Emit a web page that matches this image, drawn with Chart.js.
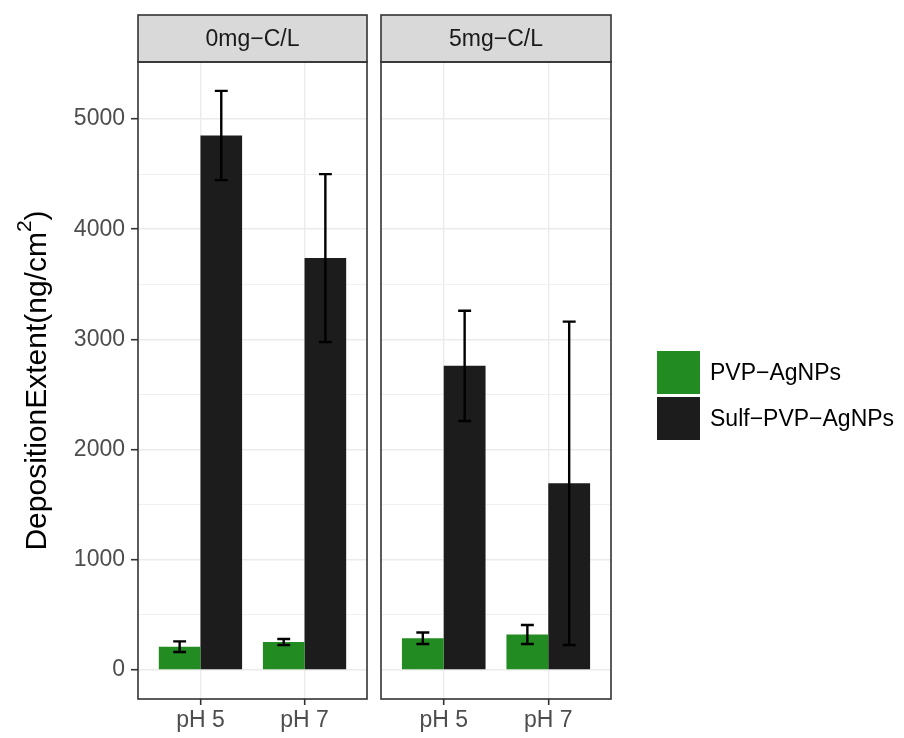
<!DOCTYPE html>
<html>
<head>
<meta charset="utf-8">
<script src="https://cdn.jsdelivr.net/npm/chart.js@4.4.0/dist/chart.umd.min.js"></script>
<style>
  html, body { margin: 0; padding: 0; background: #fff; }
  #wrap { position: relative; width: 904px; height: 738px; overflow: hidden; }
  canvas { position: absolute; top: 0; }
  #left { left: 0; }
  #right { left: 376px; }
</style>
</head>
<body>
<div id="wrap">
  <canvas id="left" width="372" height="738"></canvas>
  <canvas id="right" width="528" height="738"></canvas>
</div>
<script>
const phLevels = ['pH 5', 'pH 7'];
const panelLabels = ['0mg−C/L', '5mg−C/L'];
const seriesNames = ['PVP−AgNPs', 'Sulf−PVP−AgNPs'];
const seriesColors = ['#228B22', '#1C1C1C'];

// mean deposition and error (half range) per pH, one pair of arrays per panel
const pvpMean0 = [212, 254];
const pvpErr0 = [48, 27];
const sulfMean0 = [4850, 3738];
const sulfErr0 = [405, 762];

const pvpMean5 = [288, 322];
const pvpErr5 = [52, 86];
const sulfMean5 = [2760, 1694];
const sulfErr5 = [500, 1467];

const yMajor = [0, 1000, 2000, 3000, 4000, 5000];
const yMinor = [500, 1500, 2500, 3500, 4500];
const yMin = -263;
const yMax = 5517;

const FONT = "'Liberation Sans', Arial, Helvetica, sans-serif";
const TEXT_SIZE = 23;

const toPoints = (vals) => vals.map((v, i) => ({ x: i + 1, y: v }));

function makeDatasets(pvpMean, pvpErr, sulfMean, sulfErr) {
    return [
        { label: seriesNames[0], data: toPoints(pvpMean), err: pvpErr, backgroundColor: seriesColors[0] },
        { label: seriesNames[1], data: toPoints(sulfMean), err: sulfErr, backgroundColor: seriesColors[1] }
    ];
}

// error bars drawn over the bars
const errorBars = {
    id: 'errorBars',
    afterDatasetsDraw(chart) {
        const ctx = chart.ctx;
        const y = chart.scales.y;
        ctx.save();
        ctx.strokeStyle = '#000';
        ctx.lineWidth = 2.4;
        chart.data.datasets.forEach((ds, i) => {
            chart.getDatasetMeta(i).data.forEach((bar, j) => {
                const v = ds.data[j].y;
                const top = y.getPixelForValue(v + ds.err[j]);
                const bot = y.getPixelForValue(v - ds.err[j]);
                const half = bar.width * 0.155;
                ctx.beginPath();
                ctx.moveTo(bar.x, top);
                ctx.lineTo(bar.x, bot);
                ctx.moveTo(bar.x - half, top);
                ctx.lineTo(bar.x + half, top);
                ctx.moveTo(bar.x - half, bot);
                ctx.lineTo(bar.x + half, bot);
                ctx.stroke();
            });
        });
        ctx.restore();
    }
};

// panel border, facet strip, and (left panel only) the y title with a real superscript
const facet = {
    id: 'facet',
    afterDraw(chart, args, opts) {
        const { left, right, top, bottom } = chart.chartArea;
        const ctx = chart.ctx;
        ctx.save();
        ctx.fillStyle = '#D9D9D9';
        ctx.fillRect(left, 15, right - left, top - 15);
        ctx.strokeStyle = '#333333';
        ctx.lineWidth = 1.6;
        ctx.strokeRect(left, 15, right - left, top - 15);
        ctx.strokeRect(left, top, right - left, bottom - top);
        ctx.fillStyle = '#1A1A1A';
        ctx.font = TEXT_SIZE + 'px ' + FONT;
        ctx.textAlign = 'center';
        ctx.textBaseline = 'middle';
        ctx.fillText(opts.label, (left + right) / 2, (15 + top) / 2 + 1);

        if (opts.yTitle) {
            const big = 30 + 'px ' + FONT;
            const small = 21 + 'px ' + FONT;
            const [a, sup, b] = opts.yTitle;
            ctx.font = big;
            const wa = ctx.measureText(a).width;
            const wb = ctx.measureText(b).width;
            ctx.font = small;
            const ws = ctx.measureText(sup).width;
            const total = wa + ws + wb;
            ctx.translate(opts.yTitleX, (top + bottom) / 2);
            ctx.rotate(-Math.PI / 2);
            ctx.fillStyle = '#000';
            ctx.textAlign = 'left';
            ctx.textBaseline = 'alphabetic';
            let x = -total / 2;
            ctx.font = big;
            ctx.fillText(a, x, 10);
            x += wa;
            ctx.font = small;
            ctx.fillText(sup, x, -5);
            x += ws;
            ctx.font = big;
            ctx.fillText(b, x, 10);
        }
        ctx.restore();
    }
};

// legend to the right of the second panel
const sideLegend = {
    id: 'sideLegend',
    afterDraw(chart, args, opts) {
        if (!opts || opts.x === undefined) return;
        const ctx = chart.ctx;
        ctx.save();
        ctx.font = TEXT_SIZE + 'px ' + FONT;
        ctx.textBaseline = 'middle';
        chart.data.datasets.forEach((ds, i) => {
            const ky = opts.y + i * 46;
            ctx.fillStyle = ds.backgroundColor;
            ctx.fillRect(opts.x, ky, 43, 43);
            ctx.fillStyle = '#000';
            ctx.fillText(ds.label, opts.x + 53, ky + 23);
        });
        ctx.restore();
    }
};

function makeScales(showY) {
    return {
        x: {
            type: 'linear',
            min: 0.4,
            max: 2.6,
            offset: false,
            afterBuildTicks: (scale) => { scale.ticks = phLevels.map((p, i) => ({ value: i + 1 })); },
            afterFit: (scale) => { scale.height = 39; },
            ticks: {
                autoSkip: false,
                maxRotation: 0,
                padding: 2,
                color: '#4D4D4D',
                font: { family: FONT, size: TEXT_SIZE },
                callback: (v) => phLevels[v - 1]
            },
            grid: { offset: false, color: '#EBEBEB', lineWidth: 1.4, tickLength: 6, tickColor: '#333333', tickWidth: 1.6 },
            border: { display: false }
        },
        y: {
            min: yMin,
            max: yMax,
            afterBuildTicks: (scale) => {
                scale.ticks = yMajor.concat(yMinor).sort((a, b) => a - b).map(v => ({ value: v }));
            },
            afterFit: (scale) => { scale.width = showY ? 138 : 0; },
            ticks: {
                display: showY,
                padding: 6,
                color: '#4D4D4D',
                font: { family: FONT, size: TEXT_SIZE },
                callback: (v) => yMajor.includes(v) ? String(v) : ''
            },
            grid: {
                color: (c) => yMajor.includes(c.tick && c.tick.value) ? '#EBEBEB' : '#F0F0F0',
                lineWidth: (c) => yMajor.includes(c.tick && c.tick.value) ? 1.4 : 1,
                drawTicks: showY,
                tickLength: 7,
                tickWidth: 1.6,
                tickColor: (c) => yMajor.includes(c.tick && c.tick.value) ? '#333333' : 'rgba(0,0,0,0)'
            },
            border: { display: false }
        }
    };
}

function makeOptions(showY, padding, facetOpts, legendPos) {
    return {
        responsive: false,
        animation: false,
        layout: { padding: padding },
        datasets: { bar: { categoryPercentage: 0.8, barPercentage: 1.0, borderWidth: 0 } },
        scales: makeScales(showY),
        plugins: {
            legend: { display: false },
            tooltip: { enabled: false },
            facet: facetOpts,
            sideLegend: legendPos || {}
        }
    };
}

new Chart(document.getElementById('left'), {
    type: 'bar',
    data: { datasets: makeDatasets(pvpMean0, pvpErr0, sulfMean0, sulfErr0) },
    options: makeOptions(true, { left: 0, right: 5, top: 62, bottom: 0 },
        { label: panelLabels[0], yTitle: ['DepositionExtent(ng/cm', '2', ')'], yTitleX: 36 }),
    plugins: [errorBars, facet]
});

new Chart(document.getElementById('right'), {
    type: 'bar',
    data: { datasets: makeDatasets(pvpMean5, pvpErr5, sulfMean5, sulfErr5) },
    options: makeOptions(false, { left: 5, right: 293, top: 62, bottom: 0 },
        { label: panelLabels[1] }, { x: 281, y: 351 }),
    plugins: [errorBars, facet, sideLegend]
});
</script>
</body>
</html>
